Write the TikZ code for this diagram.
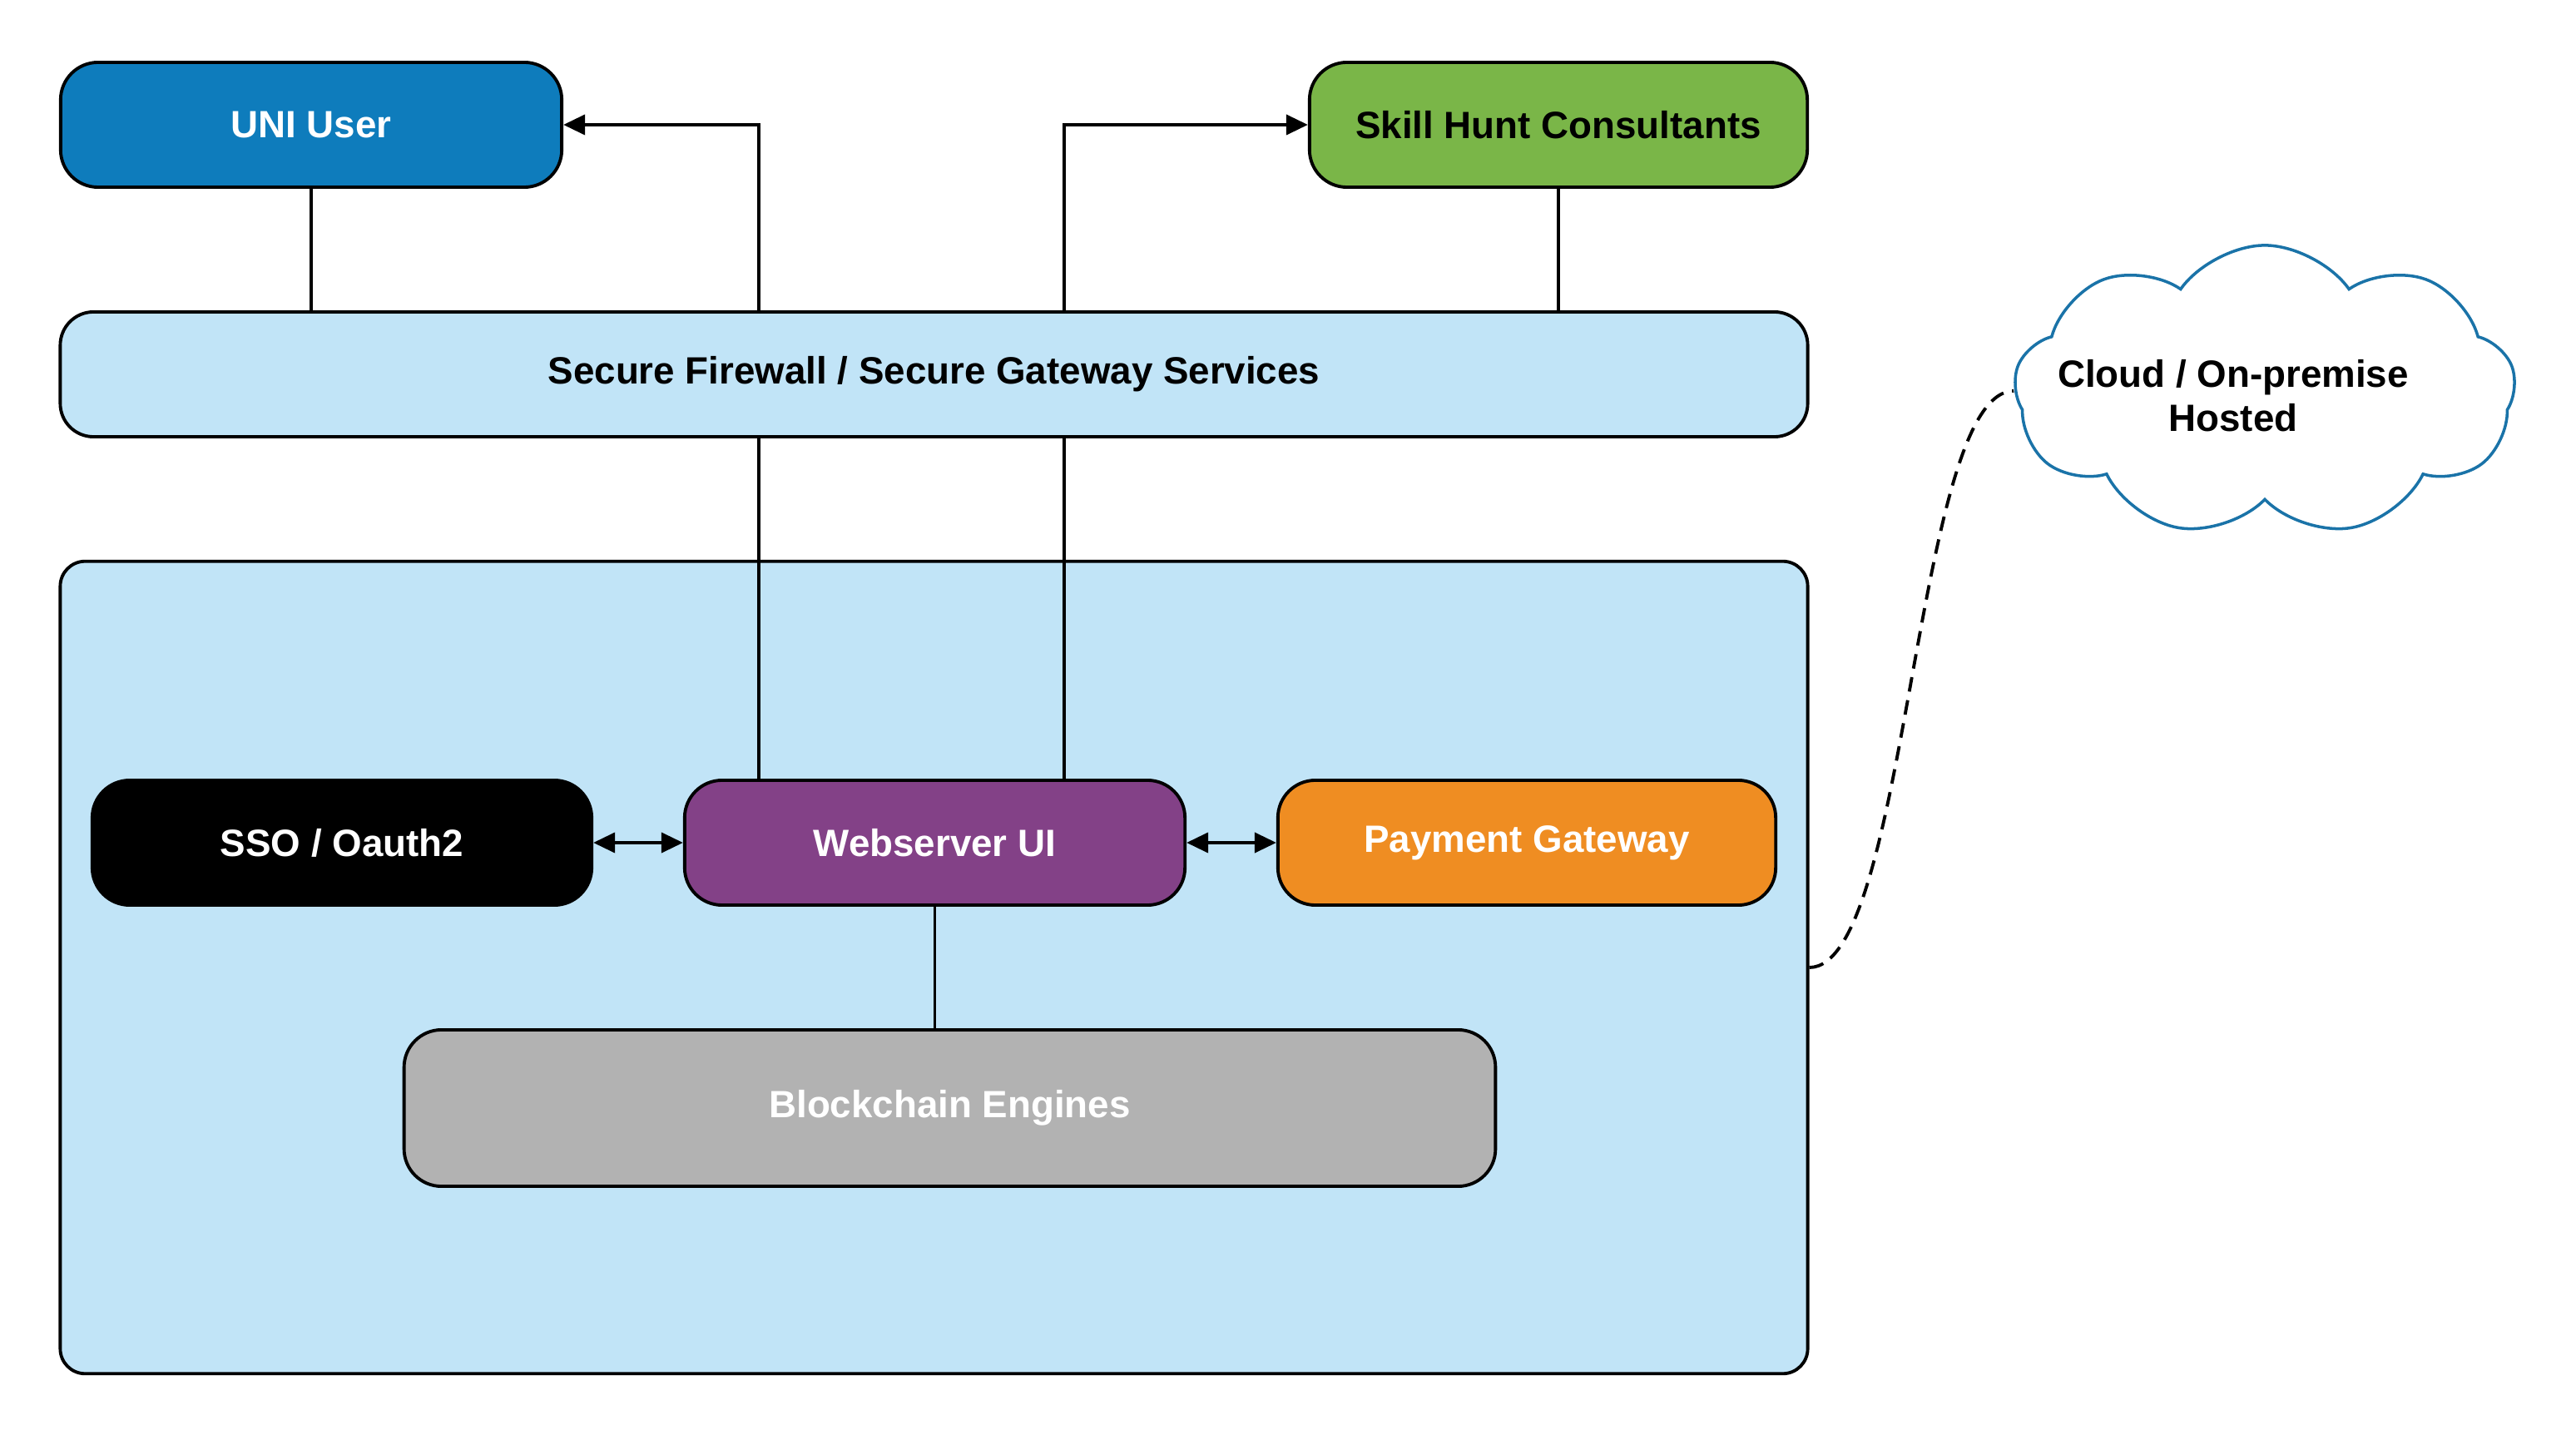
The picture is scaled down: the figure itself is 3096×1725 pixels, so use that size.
\documentclass[tikz,border=0pt]{standalone}
\usepackage{fontspec}
\setmainfont{Liberation Sans}
\usepackage{tikz}
\usetikzlibrary{positioning,arrows.meta,shapes.symbols}
\definecolor{blue1}{HTML}{0E7CBC}
\definecolor{green1}{HTML}{7AB648}
\definecolor{sky1}{HTML}{C1E4F7}
\definecolor{purple1}{HTML}{834187}
\definecolor{orange1}{HTML}{EF8D22}
\definecolor{gray1}{HTML}{B2B2B2}
\definecolor{cloud1}{HTML}{1A73A8}

\begin{document}
\begin{tikzpicture}[x=0.01cm, y=-0.01cm,
    box/.style={draw, rounded corners=0.45cm, line width=1.1pt,
                minimum height=1.5cm, font=\bfseries\fontsize{13}{15}\selectfont,
                text=white, align=center},
    link/.style={line width=1.1pt},
    tip/.style={link, -{Triangle[length=0.26cm,width=0.24cm]}},
    both/.style={link, {Triangle[length=0.26cm,width=0.24cm]}-{Triangle[length=0.26cm,width=0.24cm]}},
]
\fill[white] (0,0) rectangle (3096,1725);
\useasboundingbox (0,0) rectangle (3096,1725);

% top row
\node[box, fill=blue1, minimum width=6.02cm] (uni) at (374,150) {UNI User};
\node[box, fill=green1, text=black, minimum width=5.98cm] (skill) at (1873,150)
    {Skill Hunt Consultants};
\node[box, fill=sky1, text=black, rounded corners=0.4cm, minimum width=20.99cm]
    (fw) at (1122.5,450) {Secure Firewall / Secure Gateway Services};

% hosted platform
\node[box, fill=sky1, rounded corners=0.3cm, minimum width=20.99cm,
      minimum height=9.76cm] (platform) at (1122.5,1163) {};
\node[box, fill=black, minimum width=6cm] (sso) at (411,1013) {SSO / Oauth2};
\node[box, fill=purple1, minimum width=6.01cm] (ws) at (1123.5,1013) {Webserver UI};
\node[box, fill=orange1, minimum width=5.98cm] (pay) at (1835,1013) {Payment Gateway};
\node[box, fill=gray1, minimum width=13.11cm, minimum height=1.88cm]
    (bc) at (1141.5,1332) {Blockchain Engines};

\node[cloud, cloud puffs=9, cloud puff arc=110, aspect=1.7, draw=cloud1,
      line width=1pt, fill=white, minimum width=6.02cm, minimum height=3.5cm,
      label={[xshift=-0.38cm, yshift=-0.06cm,
              font=\bfseries\fontsize{13}{15}\selectfont,
              align=center]center:{Cloud / On-premise\\Hosted}}]
    (cloud) at (2722,470) {};

\coordinate (tapL) at (912,0);
\coordinate (tapR) at (1279,0);

% connectors
\draw[link] (uni.south) -- (uni.south |- fw.north);
\draw[link] (skill.south) -- (skill.south |- fw.north);
\draw[tip] (fw.north -| tapL) |- (uni.east);
\draw[tip] (fw.north -| tapR) |- (skill.west);
\draw[link] (fw.south -| tapL) -- (ws.north -| tapL);
\draw[link] (fw.south -| tapR) -- (ws.north -| tapR);
\draw[both] (sso.east) -- (ws.west);
\draw[both] (ws.east) -- (pay.west);
\draw[link] (ws.south) -- (ws.south |- bc.north);
\draw[link, dash pattern=on 5pt off 3pt] (platform.east)
    .. controls +(120,0) and +(-120,0) .. (cloud.west);
\end{tikzpicture}
\end{document}
